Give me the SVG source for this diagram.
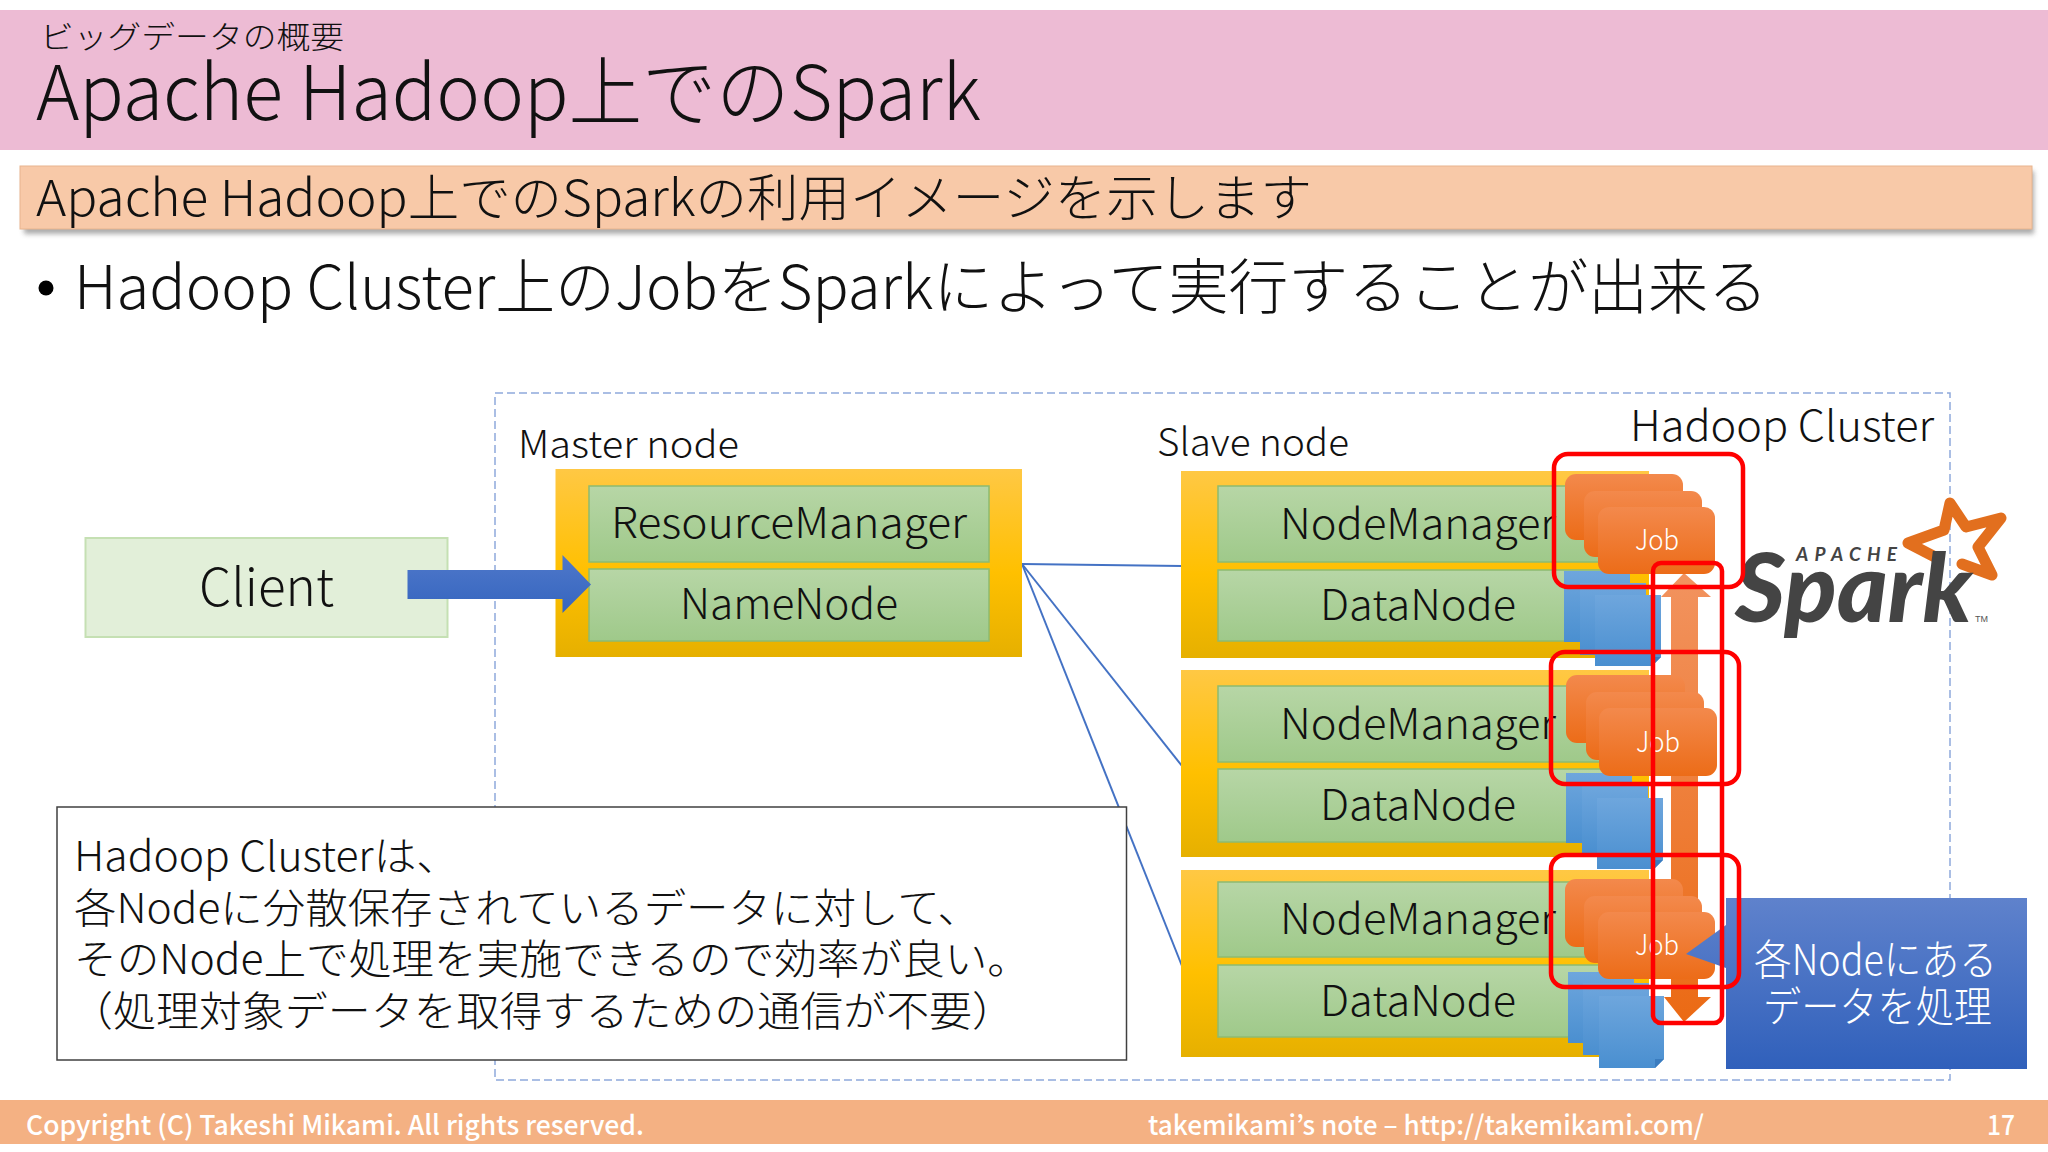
<svg xmlns="http://www.w3.org/2000/svg" width="2048" height="1152" viewBox="0 0 2048 1152">
<style>
text{font-family:"Noto Sans CJK JP","Noto Sans",sans-serif;font-weight:300;fill:#111}
.node{fill:url(#gY)}
.g{fill:url(#gG);stroke:#8dbb70;stroke-width:1.5}
.lab{font-size:42px}
.j{fill:url(#gO)}
.jt{font-size:28px;fill:#fff}
.d{fill:url(#gB)}
.f{fill:#3a7cbf}
.r{fill:none;stroke:#f00;stroke-width:4.5}
.c{stroke:#4472c4;stroke-width:2;fill:none}
.ft{font-size:27px;font-weight:500;fill:#fff}
.tb{font-size:41px}
.logo{font-family:Lato,"Liberation Sans",sans-serif;font-weight:700;font-style:italic;fill:#444}
</style>
<defs>
<linearGradient id="gY" x1="0" y1="0" x2="0" y2="1"><stop offset="0" stop-color="#ffc844"/><stop offset=".55" stop-color="#ffc000"/><stop offset="1" stop-color="#e6b000"/></linearGradient>
<linearGradient id="gG" x1="0" y1="0" x2="0" y2="1"><stop offset="0" stop-color="#b7d6a6"/><stop offset="1" stop-color="#9fc98a"/></linearGradient>
<linearGradient id="gO" x1="0" y1="0" x2="0" y2="1"><stop offset="0" stop-color="#f3894c"/><stop offset="1" stop-color="#ec6c18"/></linearGradient>
<linearGradient id="gA" x1="0" y1="0" x2="0" y2="1"><stop offset="0" stop-color="#f2935f"/><stop offset="1" stop-color="#eb6a14"/></linearGradient>
<linearGradient id="gB" x1="0" y1="0" x2="0" y2="1"><stop offset="0" stop-color="#6ea6dd"/><stop offset="1" stop-color="#4a8fd0"/></linearGradient>
<linearGradient id="gC" x1="0" y1="0" x2="0" y2="1"><stop offset="0" stop-color="#4f78ca"/><stop offset="1" stop-color="#3565bf"/></linearGradient>
<linearGradient id="gK" x1="0" y1="0" x2="0" y2="1"><stop offset="0" stop-color="#5f82cc"/><stop offset="1" stop-color="#3060bb"/></linearGradient>
<filter id="bl" x="-5%" y="-30%" width="110%" height="160%"><feGaussianBlur stdDeviation="2.5"/></filter>
</defs>
<rect width="2048" height="1152" fill="#fff"/>

<g id="header">
<rect x="0" y="10" width="2048" height="140" fill="#edbbd4"/>
<text x="40" y="48" font-size="31" textLength="304" lengthAdjust="spacingAndGlyphs">ビッグデータの概要</text>
<text x="36" y="120" font-size="76" textLength="945" lengthAdjust="spacingAndGlyphs">Apache Hadoop上でのSpark</text>
</g>
<g id="lead">
<rect x="24" y="171" width="2010" height="63" fill="#888" opacity=".7" filter="url(#bl)"/>
<rect x="20" y="166" width="2012" height="63" fill="#f8c9a8" stroke="#e8b48e" stroke-width="1"/>
<text x="36" y="216" font-size="50" textLength="1276" lengthAdjust="spacingAndGlyphs">Apache Hadoop上でのSparkの利用イメージを示します</text>
</g>
<g id="bullet">
<circle cx="46" cy="288" r="7.5" fill="#000"/>
<text x="74" y="309" font-size="60" textLength="1694" lengthAdjust="spacingAndGlyphs">Hadoop Cluster上のJobをSparkによって実行することが出来る</text>
</g>

<g id="cluster">
<rect x="495" y="393" width="1455" height="687" fill="none" stroke="#8ea9db" stroke-width="1.5" stroke-dasharray="8 4"/>
<text x="518" y="458" font-size="38" textLength="221" lengthAdjust="spacingAndGlyphs">Master node</text>
<text x="1157" y="456" font-size="38" textLength="192" lengthAdjust="spacingAndGlyphs">Slave node</text>
<text x="1630" y="441" font-size="42" textLength="304" lengthAdjust="spacingAndGlyphs">Hadoop Cluster</text>
</g>

<g id="connectors">
<line class="c" x1="1022" y1="564" x2="1182" y2="566"/>
<line class="c" x1="1022" y1="564" x2="1182" y2="766"/>
<line class="c" x1="1022" y1="564" x2="1182" y2="966"/>
</g>

<g id="client">
<rect x="85.500" y="538" width="362" height="99" fill="#e2efd9" stroke="#c5e0b3" stroke-width="2"/>
<text x="199" y="606" font-size="52" textLength="135" lengthAdjust="spacingAndGlyphs">Client</text>
</g>

<g id="master">
<rect class="node" x="555.500" y="469" width="466.500" height="188"/>
<rect class="g" x="589" y="486" width="400" height="76"/>
<text class="lab" x="611" y="538" textLength="356" lengthAdjust="spacingAndGlyphs">ResourceManager</text>
<rect class="g" x="589" y="569" width="400" height="72"/>
<text class="lab" x="680" y="619" textLength="218" lengthAdjust="spacingAndGlyphs">NameNode</text>
</g>

<g id="client-arrow">
<polygon points="407.500,570 562.500,570 562.500,555 591,584.500 562.500,613 562.500,599 407.500,599" fill="url(#gC)"/>
</g>

<g id="slave1">
<rect class="node" x="1181" y="471" width="468" height="187"/>
<rect class="g" x="1218" y="486" width="400" height="76"/>
<text class="lab" x="1280" y="539" textLength="276" lengthAdjust="spacingAndGlyphs">NodeManager</text>
<rect class="g" x="1218" y="570" width="400" height="71"/>
<text class="lab" x="1320" y="620" textLength="196" lengthAdjust="spacingAndGlyphs">DataNode</text>
</g>
<g id="slave2">
<rect class="node" x="1181" y="670" width="468" height="187"/>
<rect class="g" x="1218" y="686" width="400" height="76"/>
<text class="lab" x="1280" y="739" textLength="276" lengthAdjust="spacingAndGlyphs">NodeManager</text>
<rect class="g" x="1218" y="769" width="400" height="73"/>
<text class="lab" x="1320" y="820" textLength="196" lengthAdjust="spacingAndGlyphs">DataNode</text>
</g>
<g id="slave3">
<rect class="node" x="1181" y="870" width="468" height="187"/>
<rect class="g" x="1218" y="882" width="400" height="75"/>
<text class="lab" x="1280" y="934" textLength="276" lengthAdjust="spacingAndGlyphs">NodeManager</text>
<rect class="g" x="1218" y="965" width="400" height="72"/>
<text class="lab" x="1320" y="1016" textLength="196" lengthAdjust="spacingAndGlyphs">DataNode</text>
</g>

<g id="data1">
<polygon class="d" points="1564,571 1630,571 1630,642 1564,642"/>
<polygon class="d" points="1580,583 1646,583 1646,655 1580,655"/>
<polygon class="d" points="1595,595 1661,595 1661,657 1652,666 1595,666"/>
<polygon class="f" points="1661,657 1652,666 1652,657"/>
</g>
<g id="data2">
<polygon class="d" points="1566,773 1632,773 1632,843 1566,843"/>
<polygon class="d" points="1582,785 1648,785 1648,853 1582,853"/>
<polygon class="d" points="1597,798 1663,798 1663,860 1654,869 1597,869"/>
<polygon class="f" points="1663,860 1654,869 1654,860"/>
</g>
<g id="data3">
<polygon class="d" points="1568,972 1634,972 1634,1043 1568,1043"/>
<polygon class="d" points="1583,983 1649,983 1649,1055 1583,1055"/>
<polygon class="d" points="1599,996 1664,996 1664,1059 1655,1068 1599,1068"/>
<polygon class="f" points="1664,1059 1655,1068 1655,1059"/>
</g>

<g id="updown-arrow">
<polygon points="1684,573 1711,597 1698,597 1698,997 1711,997 1684,1022 1664,997 1671,997 1671,597 1661,597" fill="url(#gA)"/>
</g>

<g id="job1">
<rect class="j" x="1565" y="474" width="118" height="66" rx="11"/>
<rect class="j" x="1584" y="491" width="118" height="66" rx="11"/>
<rect class="j" x="1598" y="507" width="117" height="67" rx="11"/>
<text class="jt" x="1635" y="550" textLength="44" lengthAdjust="spacingAndGlyphs">Job</text>
</g>
<g id="job2">
<rect class="j" x="1566" y="675" width="119" height="68" rx="11"/>
<rect class="j" x="1586" y="692" width="118" height="68" rx="11"/>
<rect class="j" x="1599" y="708" width="118" height="68" rx="11"/>
<text class="jt" x="1636" y="752" textLength="44" lengthAdjust="spacingAndGlyphs">Job</text>
</g>
<g id="job3">
<rect class="j" x="1565" y="879" width="118" height="68" rx="11"/>
<rect class="j" x="1584" y="896" width="118" height="67" rx="11"/>
<rect class="j" x="1598" y="912" width="117" height="67" rx="11"/>
<text class="jt" x="1635" y="955" textLength="44" lengthAdjust="spacingAndGlyphs">Job</text>
</g>

<g id="spark-logo">
<path d="M1937,558 L1908,543 L1944,530 L1950,503 L1966,527 L2001,518 L1978,547 L1992,575 L1962,564" fill="none" stroke="#e26f1e" stroke-width="11" stroke-linejoin="round" stroke-linecap="round"/>
<text class="logo" x="1796" y="561" font-size="19" textLength="101" lengthAdjust="spacing">APACHE</text>
<text class="logo" x="1735" y="622" font-size="96" textLength="237" lengthAdjust="spacingAndGlyphs" style="font-weight:900">Spark</text>
<text x="1975" y="622" font-size="9" style="font-family:'Liberation Sans',sans-serif;font-weight:400;fill:#555">TM</text>
</g>

<g id="note">
<rect x="57" y="807" width="1069.500" height="253" fill="#fff" stroke="#404040" stroke-width="1.5"/>
<text class="tb" x="74" y="871" textLength="385" lengthAdjust="spacingAndGlyphs">Hadoop Clusterは、</text>
<text class="tb" x="74" y="923" textLength="906" lengthAdjust="spacingAndGlyphs">各Nodeに分散保存されているデータに対して、</text>
<text class="tb" x="74" y="974" textLength="956" lengthAdjust="spacingAndGlyphs">そのNode上で処理を実施できるので効率が良い。</text>
<text class="tb" x="70" y="1026" textLength="945" lengthAdjust="spacingAndGlyphs">（処理対象データを取得するための通信が不要）</text>
</g>

<g id="callout">
<path d="M1726,898 H2027 V1069 H1726 V968 L1686,954 L1726,925 Z" fill="url(#gK)"/>
<text x="1754" y="975" font-size="42" textLength="243" lengthAdjust="spacingAndGlyphs" style="fill:#fff">各Nodeにある</text>
<text x="1763" y="1022" font-size="42" textLength="229" lengthAdjust="spacingAndGlyphs" style="fill:#fff">データを処理</text>
</g>

<g id="highlights">
<rect class="r" x="1554" y="454" width="189" height="133" rx="14"/>
<rect class="r" x="1551" y="652" width="188" height="132" rx="14"/>
<rect class="r" x="1551" y="855" width="188" height="132" rx="14"/>
<rect class="r" x="1653" y="563" width="69" height="460" rx="8"/>
</g>

<g id="footer">
<rect x="0" y="1100" width="2048" height="44" fill="#f4b183"/>
<text class="ft" x="26" y="1135" textLength="618" lengthAdjust="spacingAndGlyphs">Copyright (C) Takeshi Mikami. All rights reserved.</text>
<text class="ft" x="1148" y="1135" textLength="556" lengthAdjust="spacingAndGlyphs">takemikami’s note – http://takemikami.com/</text>
<text class="ft" x="1987" y="1135" textLength="28" lengthAdjust="spacingAndGlyphs">17</text>
</g>
</svg>
